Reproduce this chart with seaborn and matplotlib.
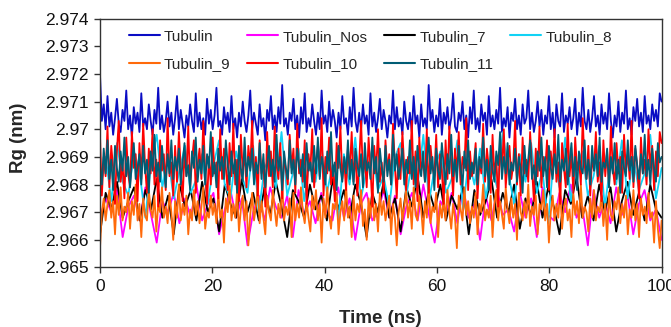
import numpy as np
import matplotlib
matplotlib.use("Agg")
import matplotlib.pyplot as plt
from matplotlib.ticker import FuncFormatter
import pandas as pd
import seaborn as sns

tubulin = [
    2.9720, 2.9703, 2.9709, 2.9700, 2.9712, 2.9701, 2.9706, 2.9698, 2.9704, 2.9711, 2.9702, 2.9699, 2.9707, 2.9703, 2.9714, 2.9700, 2.9705, 2.9697, 2.9708, 2.9702,
    2.9706, 2.9699, 2.9713, 2.9701, 2.9704, 2.9700, 2.9709, 2.9703, 2.9698, 2.9707, 2.9702, 2.9715, 2.9700, 2.9705, 2.9699, 2.9703, 2.9710, 2.9701, 2.9706, 2.9698,
    2.9704, 2.9712, 2.9700, 2.9707, 2.9702, 2.9697, 2.9705, 2.9701, 2.9709, 2.9703, 2.9699, 2.9713, 2.9701, 2.9706, 2.9700, 2.9704, 2.9698, 2.9711, 2.9702, 2.9707,
    2.9700, 2.9705, 2.9715, 2.9701, 2.9703, 2.9698, 2.9708, 2.9702, 2.9706, 2.9699, 2.9712, 2.9700, 2.9704, 2.9697, 2.9706, 2.9701, 2.9710, 2.9703, 2.9699, 2.9705,
    2.9714, 2.9700, 2.9706, 2.9702, 2.9698, 2.9709, 2.9701, 2.9704, 2.9696, 2.9707, 2.9703, 2.9712, 2.9700, 2.9705, 2.9699, 2.9708, 2.9702, 2.9716, 2.9701, 2.9704,
    2.9698, 2.9706, 2.9703, 2.9711, 2.9700, 2.9705, 2.9697, 2.9708, 2.9702, 2.9713, 2.9699, 2.9704, 2.9701, 2.9709, 2.9703, 2.9698, 2.9706, 2.9700, 2.9714, 2.9702,
    2.9705, 2.9699, 2.9710, 2.9701, 2.9707, 2.9703, 2.9697, 2.9706, 2.9700, 2.9712, 2.9702, 2.9704, 2.9698, 2.9708, 2.9701, 2.9715, 2.9703, 2.9699, 2.9706, 2.9700,
    2.9709, 2.9702, 2.9705, 2.9698, 2.9713, 2.9701, 2.9706, 2.9699, 2.9704, 2.9711, 2.9700, 2.9707, 2.9703, 2.9697, 2.9705, 2.9702, 2.9714, 2.9700, 2.9708, 2.9701,
    2.9704, 2.9698, 2.9710, 2.9703, 2.9700, 2.9706, 2.9699, 2.9712, 2.9702, 2.9705, 2.9697, 2.9709, 2.9701, 2.9704, 2.9700, 2.9716, 2.9703, 2.9707, 2.9699, 2.9705,
    2.9701, 2.9711, 2.9698, 2.9706, 2.9702, 2.9708, 2.9700, 2.9704, 2.9713, 2.9701, 2.9699, 2.9706, 2.9703, 2.9710, 2.9700, 2.9705, 2.9697, 2.9708, 2.9702, 2.9714,
    2.9700, 2.9704, 2.9699, 2.9709, 2.9703, 2.9706, 2.9698, 2.9712, 2.9701, 2.9705, 2.9700, 2.9707, 2.9702, 2.9715, 2.9699, 2.9704, 2.9701, 2.9708, 2.9697, 2.9706,
    2.9703, 2.9711, 2.9700, 2.9705, 2.9698, 2.9709, 2.9702, 2.9704, 2.9714, 2.9700, 2.9706, 2.9699, 2.9703, 2.9710, 2.9701, 2.9707, 2.9698, 2.9705, 2.9702, 2.9712,
    2.9700, 2.9706, 2.9697, 2.9709, 2.9703, 2.9701, 2.9713, 2.9699, 2.9705, 2.9702, 2.9708, 2.9700, 2.9704, 2.9711, 2.9698, 2.9706, 2.9701, 2.9715, 2.9703, 2.9700,
    2.9707, 2.9699, 2.9704, 2.9712, 2.9701, 2.9705, 2.9698, 2.9709, 2.9702, 2.9706, 2.9700, 2.9713, 2.9703, 2.9697, 2.9705, 2.9701, 2.9710, 2.9699, 2.9706, 2.9702,
    2.9714, 2.9700, 2.9704, 2.9698, 2.9708, 2.9703, 2.9711, 2.9701, 2.9706, 2.9699, 2.9712, 2.9702, 2.9705, 2.9700, 2.9709, 2.9703, 2.9707, 2.9701, 2.9713, 2.9710,
]

tubulin_nos = [
    2.9668, 2.9675, 2.9670, 2.9678, 2.9661, 2.9672, 2.9676, 2.9667, 2.9679, 2.9669, 2.9659, 2.9674, 2.9670, 2.9677, 2.9666, 2.9675, 2.9668, 2.9680, 2.9667, 2.9673,
    2.9677, 2.9662, 2.9671, 2.9678, 2.9668, 2.9675, 2.9658, 2.9670, 2.9676, 2.9667, 2.9679, 2.9672, 2.9668, 2.9676, 2.9661, 2.9678, 2.9669, 2.9674, 2.9666, 2.9677,
    2.9670, 2.9667, 2.9679, 2.9668, 2.9675, 2.9660, 2.9673, 2.9677, 2.9667, 2.9670, 2.9678, 2.9668, 2.9676, 2.9662, 2.9672, 2.9677, 2.9667, 2.9680, 2.9669, 2.9659,
    2.9674, 2.9670, 2.9677, 2.9666, 2.9679, 2.9668, 2.9673, 2.9660, 2.9676, 2.9667, 2.9678, 2.9669, 2.9671, 2.9663, 2.9677, 2.9668, 2.9675, 2.9661, 2.9679, 2.9669,
    2.9667, 2.9677, 2.9670, 2.9680, 2.9668, 2.9672, 2.9658, 2.9678, 2.9668, 2.9674, 2.9666, 2.9679, 2.9669, 2.9676, 2.9662, 2.9673, 2.9678, 2.9667, 2.9671, 2.9660,
]

tubulin_7 = [
    2.9662, 2.9677, 2.9671, 2.9681, 2.9668, 2.9674, 2.9679, 2.9667, 2.9678, 2.9671, 2.9682, 2.9668, 2.9676, 2.9662, 2.9680, 2.9672, 2.9678, 2.9667, 2.9681, 2.9670,
    2.9675, 2.9663, 2.9680, 2.9673, 2.9668, 2.9682, 2.9670, 2.9677, 2.9667, 2.9679, 2.9669, 2.9681, 2.9672, 2.9661, 2.9678, 2.9674, 2.9668, 2.9680, 2.9671, 2.9676,
    2.9667, 2.9682, 2.9671, 2.9678, 2.9668, 2.9680, 2.9673, 2.9661, 2.9677, 2.9670, 2.9681, 2.9668, 2.9675, 2.9663, 2.9679, 2.9672, 2.9683, 2.9668, 2.9678, 2.9671,
    2.9680, 2.9667, 2.9676, 2.9671, 2.9679, 2.9662, 2.9678, 2.9669, 2.9674, 2.9682, 2.9668, 2.9677, 2.9670, 2.9680, 2.9664, 2.9675, 2.9669, 2.9681, 2.9668, 2.9679,
    2.9672, 2.9662, 2.9678, 2.9673, 2.9683, 2.9668, 2.9676, 2.9667, 2.9680, 2.9670, 2.9679, 2.9663, 2.9674, 2.9681, 2.9669, 2.9677, 2.9667, 2.9680, 2.9671, 2.9668,
]

tubulin_8 = [
    2.9678, 2.9690, 2.9674, 2.9695, 2.9681, 2.9676, 2.9692, 2.9684, 2.9668, 2.9688, 2.9698, 2.9679, 2.9690, 2.9675, 2.9685, 2.9694, 2.9677, 2.9682, 2.9691, 2.9673,
    2.9687, 2.9696, 2.9680, 2.9675, 2.9692, 2.9683, 2.9677, 2.9694, 2.9670, 2.9686, 2.9690, 2.9679, 2.9699, 2.9676, 2.9684, 2.9693, 2.9674, 2.9689, 2.9681, 2.9695,
    2.9677, 2.9687, 2.9667, 2.9691, 2.9680, 2.9697, 2.9675, 2.9685, 2.9693, 2.9678, 2.9683, 2.9672, 2.9690, 2.9695, 2.9676, 2.9688, 2.9680, 2.9698, 2.9674, 2.9686,
    2.9692, 2.9677, 2.9682, 2.9696, 2.9671, 2.9689, 2.9680, 2.9693, 2.9675, 2.9687, 2.9679, 2.9699, 2.9684, 2.9673, 2.9691, 2.9681, 2.9695, 2.9677, 2.9685, 2.9666,
    2.9690, 2.9679, 2.9697, 2.9674, 2.9686, 2.9692, 2.9676, 2.9683, 2.9694, 2.9672, 2.9688, 2.9680, 2.9696, 2.9675, 2.9690, 2.9678, 2.9684, 2.9698, 2.9675, 2.9686,
]

tubulin_9 = [
    2.9657, 2.9670, 2.9675, 2.9667, 2.9673, 2.9678, 2.9668, 2.9674, 2.9662, 2.9676, 2.9669, 2.9679, 2.9667, 2.9672, 2.9670, 2.9677, 2.9664, 2.9674, 2.9669, 2.9680,
    2.9667, 2.9673, 2.9661, 2.9675, 2.9669, 2.9667, 2.9678, 2.9671, 2.9668, 2.9676, 2.9663, 2.9673, 2.9670, 2.9679, 2.9668, 2.9672, 2.9666, 2.9677, 2.9670, 2.9660,
    2.9674, 2.9668, 2.9680, 2.9667, 2.9673, 2.9669, 2.9676, 2.9662, 2.9671, 2.9667, 2.9678, 2.9669, 2.9674, 2.9666, 2.9672, 2.9679, 2.9664, 2.9670, 2.9668, 2.9676,
    2.9669, 2.9673, 2.9666, 2.9677, 2.9668, 2.9671, 2.9659, 2.9675, 2.9670, 2.9680, 2.9667, 2.9673, 2.9668, 2.9678, 2.9663, 2.9671, 2.9676, 2.9667, 2.9674, 2.9658,
    2.9669, 2.9677, 2.9667, 2.9672, 2.9679, 2.9666, 2.9674, 2.9668, 2.9662, 2.9676, 2.9670, 2.9667, 2.9678, 2.9671, 2.9665, 2.9673, 2.9668, 2.9680, 2.9667, 2.9672,
    2.9669, 2.9675, 2.9661, 2.9677, 2.9667, 2.9673, 2.9668, 2.9679, 2.9670, 2.9666, 2.9674, 2.9668, 2.9663, 2.9676, 2.9671, 2.9678, 2.9667, 2.9673, 2.9659, 2.9675,
    2.9668, 2.9679, 2.9669, 2.9664, 2.9673, 2.9671, 2.9677, 2.9662, 2.9670, 2.9674, 2.9667, 2.9680, 2.9668, 2.9672, 2.9661, 2.9676, 2.9667, 2.9673, 2.9670, 2.9678,
    2.9665, 2.9671, 2.9660, 2.9675, 2.9668, 2.9679, 2.9667, 2.9673, 2.9663, 2.9677, 2.9669, 2.9674, 2.9667, 2.9671, 2.9676, 2.9662, 2.9673, 2.9668, 2.9658, 2.9670,
    2.9675, 2.9667, 2.9672, 2.9678, 2.9668, 2.9674, 2.9664, 2.9679, 2.9669, 2.9667, 2.9676, 2.9671, 2.9662, 2.9674, 2.9668, 2.9680, 2.9666, 2.9672, 2.9670, 2.9677,
    2.9661, 2.9673, 2.9668, 2.9675, 2.9667, 2.9678, 2.9670, 2.9664, 2.9673, 2.9668, 2.9657, 2.9676, 2.9671, 2.9667, 2.9679, 2.9669, 2.9674, 2.9666, 2.9672, 2.9668,
    2.9677, 2.9662, 2.9673, 2.9670, 2.9680, 2.9667, 2.9671, 2.9668, 2.9676, 2.9661, 2.9673, 2.9678, 2.9667, 2.9674, 2.9669, 2.9664, 2.9679, 2.9671, 2.9666, 2.9675,
    2.9668, 2.9673, 2.9660, 2.9677, 2.9670, 2.9667, 2.9674, 2.9668, 2.9680, 2.9665, 2.9672, 2.9669, 2.9676, 2.9662, 2.9673, 2.9671, 2.9678, 2.9667, 2.9673, 2.9659,
    2.9670, 2.9676, 2.9667, 2.9673, 2.9668, 2.9679, 2.9664, 2.9672, 2.9675, 2.9667, 2.9671, 2.9661, 2.9677, 2.9669, 2.9674, 2.9666, 2.9680, 2.9668, 2.9672, 2.9670,
    2.9663, 2.9675, 2.9668, 2.9678, 2.9667, 2.9672, 2.9670, 2.9676, 2.9665, 2.9673, 2.9660, 2.9677, 2.9669, 2.9667, 2.9674, 2.9671, 2.9679, 2.9666, 2.9673, 2.9668,
    2.9676, 2.9662, 2.9671, 2.9668, 2.9678, 2.9667, 2.9673, 2.9661, 2.9675, 2.9669, 2.9672, 2.9666, 2.9677, 2.9668, 2.9670, 2.9659, 2.9674, 2.9664, 2.9657, 2.9667,
]

tubulin_10 = [
    2.9698, 2.9676, 2.9690, 2.9683, 2.9701, 2.9679, 2.9694, 2.9686, 2.9673, 2.9692, 2.9703, 2.9681, 2.9688, 2.9675, 2.9697, 2.9684, 2.9679, 2.9699, 2.9686, 2.9691,
    2.9674, 2.9695, 2.9682, 2.9702, 2.9687, 2.9677, 2.9693, 2.9684, 2.9700, 2.9680, 2.9689, 2.9672, 2.9696, 2.9685, 2.9691, 2.9678, 2.9704, 2.9683, 2.9688, 2.9676,
    2.9694, 2.9681, 2.9699, 2.9686, 2.9674, 2.9692, 2.9683, 2.9701, 2.9679, 2.9689, 2.9696, 2.9677, 2.9687, 2.9693, 2.9682, 2.9703, 2.9685, 2.9673, 2.9690, 2.9680,
    2.9697, 2.9684, 2.9688, 2.9675, 2.9700, 2.9682, 2.9693, 2.9686, 2.9678, 2.9695, 2.9683, 2.9702, 2.9680, 2.9689, 2.9674, 2.9698, 2.9685, 2.9691, 2.9679, 2.9694,
    2.9686, 2.9703, 2.9681, 2.9690, 2.9676, 2.9696, 2.9684, 2.9688, 2.9672, 2.9699, 2.9683, 2.9692, 2.9679, 2.9701, 2.9687, 2.9682, 2.9695, 2.9675, 2.9690, 2.9685,
    2.9680, 2.9698, 2.9686, 2.9693, 2.9677, 2.9702, 2.9684, 2.9689, 2.9681, 2.9696, 2.9673, 2.9691, 2.9685, 2.9700, 2.9679, 2.9688, 2.9694, 2.9683, 2.9704, 2.9676,
    2.9690, 2.9684, 2.9697, 2.9680, 2.9687, 2.9674, 2.9695, 2.9686, 2.9701, 2.9682, 2.9689, 2.9678, 2.9693, 2.9685, 2.9699, 2.9681, 2.9692, 2.9676, 2.9688, 2.9703,
    2.9683, 2.9690, 2.9679, 2.9697, 2.9686, 2.9672, 2.9694, 2.9684, 2.9700, 2.9681, 2.9688, 2.9677, 2.9696, 2.9685, 2.9691, 2.9680, 2.9702, 2.9687, 2.9675, 2.9693,
    2.9682, 2.9699, 2.9686, 2.9678, 2.9690, 2.9684, 2.9703, 2.9680, 2.9692, 2.9674, 2.9697, 2.9685, 2.9689, 2.9681, 2.9700, 2.9677, 2.9694, 2.9686, 2.9683, 2.9698,
    2.9679, 2.9691, 2.9685, 2.9673, 2.9696, 2.9682, 2.9701, 2.9688, 2.9676, 2.9693, 2.9684, 2.9699, 2.9680, 2.9690, 2.9686, 2.9704, 2.9678, 2.9692, 2.9683, 2.9687,
    2.9695, 2.9675, 2.9689, 2.9684, 2.9702, 2.9681, 2.9693, 2.9686, 2.9677, 2.9698, 2.9683, 2.9690, 2.9672, 2.9696, 2.9685, 2.9700, 2.9679, 2.9688, 2.9694, 2.9682,
    2.9687, 2.9703, 2.9680, 2.9691, 2.9676, 2.9697, 2.9684, 2.9689, 2.9681, 2.9699, 2.9686, 2.9674, 2.9693, 2.9683, 2.9701, 2.9679, 2.9690, 2.9685, 2.9696, 2.9678,
    2.9692, 2.9684, 2.9700, 2.9681, 2.9688, 2.9673, 2.9695, 2.9686, 2.9679, 2.9702, 2.9683, 2.9691, 2.9677, 2.9697, 2.9685, 2.9689, 2.9680, 2.9704, 2.9687, 2.9682,
    2.9694, 2.9676, 2.9690, 2.9685, 2.9699, 2.9681, 2.9688, 2.9674, 2.9696, 2.9683, 2.9692, 2.9679, 2.9701, 2.9686, 2.9680, 2.9695, 2.9684, 2.9690, 2.9677, 2.9698,
    2.9685, 2.9691, 2.9682, 2.9703, 2.9679, 2.9693, 2.9687, 2.9675, 2.9697, 2.9684, 2.9689, 2.9680, 2.9700, 2.9686, 2.9694, 2.9678, 2.9692, 2.9683, 2.9699, 2.9695,
]

tubulin_11 = [
    2.9687, 2.9680, 2.9693, 2.9684, 2.9696, 2.9682, 2.9689, 2.9678, 2.9694, 2.9686, 2.9681, 2.9692, 2.9685, 2.9697, 2.9683, 2.9690, 2.9679, 2.9688, 2.9695, 2.9682,
    2.9686, 2.9691, 2.9680, 2.9694, 2.9684, 2.9689, 2.9677, 2.9692, 2.9685, 2.9698, 2.9683, 2.9688, 2.9681, 2.9694, 2.9686, 2.9679, 2.9691, 2.9684, 2.9696, 2.9682,
    2.9690, 2.9685, 2.9693, 2.9680, 2.9688, 2.9695, 2.9683, 2.9687, 2.9678, 2.9692, 2.9686, 2.9697, 2.9681, 2.9689, 2.9684, 2.9694, 2.9680, 2.9691, 2.9686, 2.9699,
    2.9683, 2.9688, 2.9679, 2.9693, 2.9685, 2.9690, 2.9682, 2.9696, 2.9687, 2.9680, 2.9692, 2.9684, 2.9689, 2.9677, 2.9694, 2.9686, 2.9681, 2.9697, 2.9683, 2.9690,
    2.9685, 2.9693, 2.9680, 2.9688, 2.9684, 2.9695, 2.9682, 2.9691, 2.9679, 2.9687, 2.9694, 2.9683, 2.9689, 2.9681, 2.9698, 2.9685, 2.9690, 2.9678, 2.9692, 2.9686,
    2.9682, 2.9696, 2.9684, 2.9689, 2.9680, 2.9693, 2.9687, 2.9683, 2.9691, 2.9679, 2.9695, 2.9685, 2.9688, 2.9681, 2.9694, 2.9684, 2.9697, 2.9682, 2.9690, 2.9686,
    2.9680, 2.9692, 2.9685, 2.9699, 2.9683, 2.9688, 2.9678, 2.9694, 2.9686, 2.9681, 2.9690, 2.9684, 2.9696, 2.9682, 2.9689, 2.9680, 2.9693, 2.9687, 2.9683, 2.9691,
    2.9679, 2.9695, 2.9685, 2.9688, 2.9682, 2.9697, 2.9684, 2.9690, 2.9677, 2.9693, 2.9686, 2.9681, 2.9694, 2.9683, 2.9689, 2.9680, 2.9698, 2.9685, 2.9691, 2.9682,
    2.9687, 2.9693, 2.9680, 2.9689, 2.9684, 2.9696, 2.9682, 2.9690, 2.9679, 2.9694, 2.9686, 2.9683, 2.9692, 2.9681, 2.9688, 2.9697, 2.9684, 2.9690, 2.9678, 2.9693,
    2.9685, 2.9682, 2.9695, 2.9687, 2.9680, 2.9691, 2.9684, 2.9698, 2.9683, 2.9689, 2.9681, 2.9694, 2.9686, 2.9679, 2.9692, 2.9685, 2.9696, 2.9682, 2.9688, 2.9684,
    2.9693, 2.9680, 2.9690, 2.9686, 2.9697, 2.9683, 2.9689, 2.9678, 2.9694, 2.9685, 2.9681, 2.9692, 2.9687, 2.9699, 2.9682, 2.9690, 2.9684, 2.9695, 2.9680, 2.9688,
    2.9685, 2.9693, 2.9681, 2.9690, 2.9686, 2.9677, 2.9694, 2.9683, 2.9689, 2.9696, 2.9682, 2.9687, 2.9680, 2.9692, 2.9685, 2.9697, 2.9683, 2.9690, 2.9679, 2.9694,
    2.9686, 2.9682, 2.9691, 2.9684, 2.9698, 2.9681, 2.9689, 2.9685, 2.9693, 2.9680, 2.9688, 2.9695, 2.9683, 2.9690, 2.9678, 2.9692, 2.9686, 2.9684, 2.9696, 2.9682,
    2.9689, 2.9680, 2.9694, 2.9685, 2.9691, 2.9683, 2.9697, 2.9681, 2.9688, 2.9686, 2.9693, 2.9679, 2.9690, 2.9684, 2.9695, 2.9682, 2.9689, 2.9677, 2.9692, 2.9686,
    2.9683, 2.9696, 2.9685, 2.9690, 2.9681, 2.9694, 2.9687, 2.9682, 2.9691, 2.9684, 2.9698, 2.9683, 2.9689, 2.9680, 2.9693, 2.9686, 2.9681, 2.9695, 2.9688, 2.9690,
]

series_names = ["Tubulin", "Tubulin_Nos", "Tubulin_7", "Tubulin_8", "Tubulin_9", "Tubulin_10", "Tubulin_11"]
series_values = [tubulin, tubulin_nos, tubulin_7, tubulin_8, tubulin_9, tubulin_10, tubulin_11]
colors = ["#0a0cc4", "#ff00ff", "#000000", "#11d2f5", "#ff6a0a", "#ff0000", "#005c74"]

y_ticks = [2.965, 2.966, 2.967, 2.968, 2.969, 2.970, 2.971, 2.972, 2.973, 2.974]
x_ticks = [0, 20, 40, 60, 80, 100]

frames = []
for name, vals in zip(series_names, series_values):
    frames.append(pd.DataFrame({"time": np.linspace(0, 100, len(vals)), "rg": vals, "series": name}))
df = pd.concat(frames, ignore_index=True)

sns.set_style("ticks")
plt.rcParams["font.family"] = ["Liberation Sans", "DejaVu Sans"]

fig = plt.figure(figsize=(6.71, 3.27), dpi=100)
ax = fig.add_axes([0.149, 0.182, 0.837, 0.761])

sns.lineplot(data=df, x="time", y="rg", hue="series", hue_order=series_names,
             palette=colors, estimator=None, sort=False, linewidth=1.3, ax=ax)

ax.set_xlim(0, 100)
ax.set_ylim(2.965, 2.974)
ax.set_xticks(x_ticks)
ax.set_yticks(y_ticks)
ax.yaxis.set_major_formatter(FuncFormatter(lambda v, p: "{:g}".format(round(v, 3))))
ax.tick_params(axis="both", direction="out", length=4, width=1, labelsize=12.5, pad=4,
               colors="#333333", labelcolor="#111111")
for sp in ax.spines.values():
    sp.set_visible(True)
    sp.set_linewidth(1)
    sp.set_color("#333333")

ax.set_xlabel("Time (ns)", fontsize=13.5, fontweight="bold")
ax.set_ylabel("Rg (nm)", fontsize=13.5, fontweight="bold")
ax.xaxis.set_label_coords(0.5, -0.17)
ax.yaxis.set_label_coords(-0.13, 0.52)

# legend filled row by row: matplotlib fills columns, so interleave the two rows
handles, labels = ax.get_legend_handles_labels()
lookup = dict(zip(labels, handles))
order = ["Tubulin", "Tubulin_9", "Tubulin_Nos", "Tubulin_10", "Tubulin_7", "Tubulin_11", "Tubulin_8"]
leg = ax.legend([lookup[n] for n in order], order, loc="upper left", bbox_to_anchor=(0.04, 0.98),
                ncol=4, frameon=False, fontsize=11, handlelength=2.05, handletextpad=0.25,
                columnspacing=1.1, labelspacing=0.86, borderaxespad=0)
for line in leg.get_lines():
    line.set_linewidth(1.5)

fig.savefig("out.png", dpi=100)
